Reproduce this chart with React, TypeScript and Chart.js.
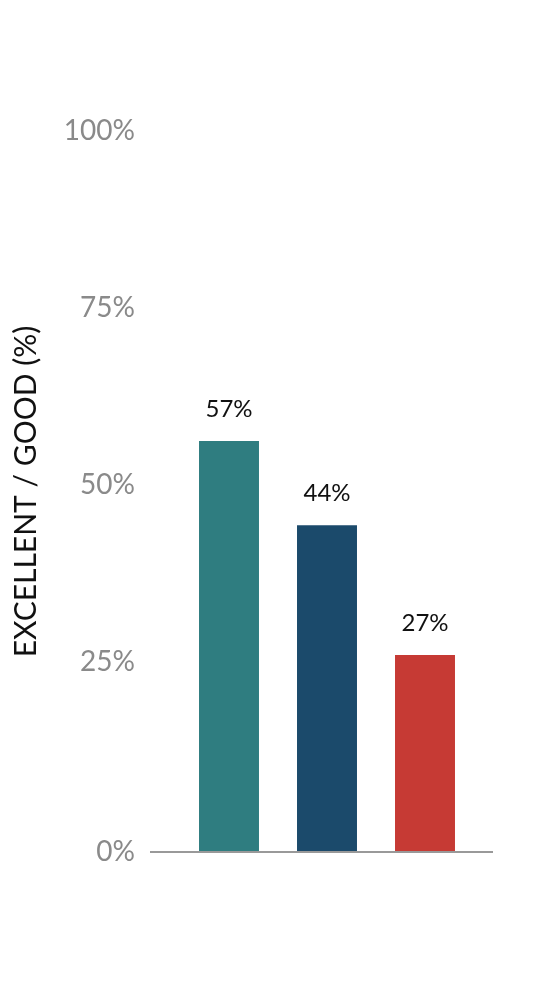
import React, { useEffect, useRef } from "react";
import { Chart, registerables } from "chart.js";

Chart.register(...registerables);

const categories = ["A", "B", "C"];
const values = [56.2, 44.3, 26.0];
const valueLabels = ["57%", "44%", "27%"];
const barColors = ["#2f7d80", "#1b4a6b", "#c63a34"];
const yMin = -1.84;
const yTicks = [yMin, 25, 50, 75, 100];

const FONT = "Lato, 'Noto Sans', sans-serif";

// value labels above bars + long baseline
const decorPlugin = {
  id: "decor",
  afterDatasetsDraw(chart: any) {
    const { ctx, chartArea } = chart;
    const meta = chart.getDatasetMeta(0);
    ctx.save();
    ctx.font = `24px ${FONT}`;
    ctx.fillStyle = "#111";
    ctx.textAlign = "center";
    ctx.textBaseline = "middle";
    meta.data.forEach((bar: any, i: number) => {
      ctx.fillText(valueLabels[i], bar.x, bar.y - 32);
    });
    ctx.strokeStyle = "#999";
    ctx.lineWidth = 2;
    ctx.beginPath();
    ctx.moveTo(chartArea.left - 30, chartArea.bottom);
    ctx.lineTo(chartArea.right + 19, chartArea.bottom);
    ctx.stroke();
    ctx.restore();
  },
};

const App: React.FC = () => {
  const canvasRef = useRef<HTMLCanvasElement | null>(null);

  useEffect(() => {
    document.body.style.margin = "0";
    let chart: Chart | undefined;
    if (canvasRef.current) {
      chart = new Chart(canvasRef.current, {
        type: "bar",
        data: {
          labels: categories,
          datasets: [
            {
              data: values,
              backgroundColor: barColors,
              base: yMin,
              barPercentage: 0.612,
              categoryPercentage: 1,
            } as any,
          ],
        },
        options: {
          animation: false,
          responsive: true,
          maintainAspectRatio: false,
          layout: { padding: { top: 131, right: 78, bottom: 148, left: 8 } },
          plugins: { legend: { display: false }, tooltip: { enabled: false } },
          scales: {
            x: {
              grid: { display: false },
              border: { display: false },
              ticks: { display: false },
            },
            y: {
              min: yMin,
              max: 100,
              grid: { display: false, drawTicks: false },
              border: { display: false },
              afterBuildTicks: (scale: any) => {
                scale.ticks = yTicks.map((v) => ({ value: v }));
              },
              afterFit: (scale: any) => {
                scale.width = 172;
              },
              ticks: {
                padding: 45,
                color: "#8a8a8a",
                font: { family: FONT, size: 28 },
                callback: (v: any) => (v === yMin ? "0%" : v + "%"),
              },
              title: {
                display: true,
                text: "EXCELLENT / GOOD (%)",
                color: "#111",
                font: { family: FONT, size: 30 },
                padding: { top: 0, bottom: 0 },
              },
            },
          },
        },
        plugins: [decorPlugin],
      });
    }
    return () => {
      chart?.destroy();
    };
  }, []);

  return (
    <div style={{ position: "absolute", left: 0, top: 0, width: 552, height: 1008 }}>
      <canvas ref={canvasRef}></canvas>
    </div>
  );
};

export default App;
